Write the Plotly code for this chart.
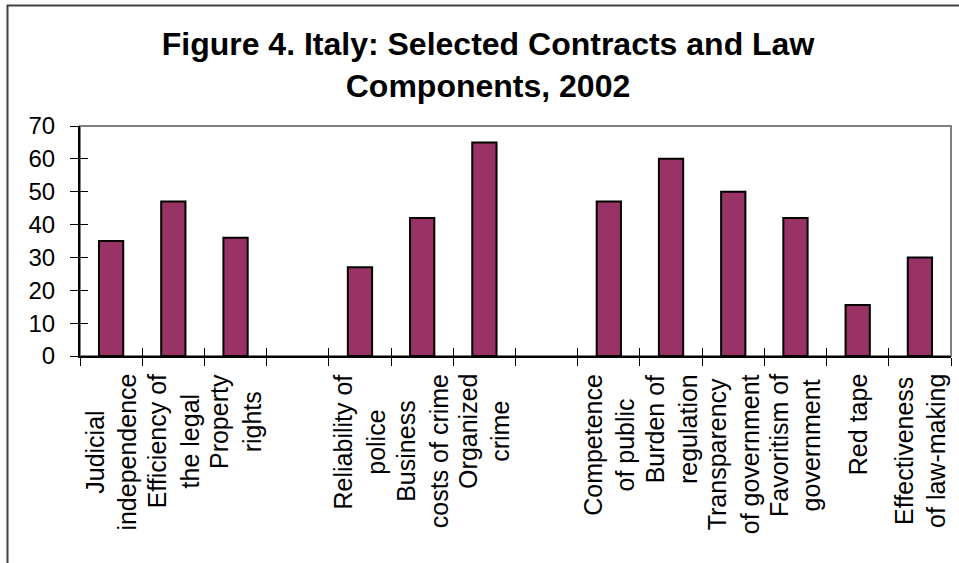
import plotly.graph_objects as go

categories = [
    "Judicial<br>independence",
    "Efficiency of<br>the legal",
    "Property<br>rights",
    " ",
    "Reliability of<br>police",
    "Business<br>costs of crime",
    "Organized<br>crime",
    "  ",
    "Competence<br>of public",
    "Burden of<br>regulation",
    "Transparency<br>of government",
    "Favoritism of<br>government",
    "Red tape",
    "Effectiveness<br>of law-making",
]
values = [35, 47, 36, None, 27, 42, 65, None, 47, 60, 50, 42, 15.5, 30]
y_ticks = [0, 10, 20, 30, 40, 50, 60, 70]

W, H = 959, 563
ML, MR, MT, MB = 80, 8, 126, 207
PW, PH = W - ML - MR, H - MT - MB

FONT = "Liberation Sans, Arial, sans-serif"

fig = go.Figure()
fig.add_trace(go.Bar(
    x=categories, y=values, width=0.39,
    marker=dict(color="#993366", line=dict(color="black", width=2)),
    showlegend=False, hoverinfo="skip",
))
# helper (invisible) trace so that the overlay axes carry inside tick marks
fig.add_trace(go.Scatter(
    x=categories, y=values, mode="none", xaxis="x2", yaxis="y2",
    showlegend=False, hoverinfo="skip",
))

# category labels: rotated, lines centred, blocks hanging from the axis
annotations = []
for c in categories:
    if c.strip() == "":
        continue
    annotations.append(dict(
        x=c, xref="x", y=0, yref="paper", yshift=-16,
        yanchor="top", xanchor="center", textangle=-90, align="center",
        text=c, showarrow=False,
        font=dict(family=FONT, size=25, color="black"),
    ))

fig.update_layout(
    width=W, height=H,
    margin=dict(l=ML, r=MR, t=MT, b=MB, pad=0),
    paper_bgcolor="white", plot_bgcolor="white",
    font=dict(family=FONT, color="black"),
    title=dict(
        text="<b>Figure 4. Italy: Selected Contracts and Law<br>Components, 2002</b>",
        font=dict(family=FONT, size=32, color="black"),
        x=488 / W, xref="container", xanchor="center",
        y=1 - 55 / H, yref="container", yanchor="top",
    ),
    xaxis=dict(
        type="category", categoryorder="array", categoryarray=categories,
        range=[-0.5, len(categories) - 0.5],
        tickson="boundaries", ticks="outside", ticklen=8, tickwidth=1.3,
        tickcolor="black", showticklabels=False,
        showline=True, linecolor="black", linewidth=2,
        showgrid=False, zeroline=False, fixedrange=True,
    ),
    yaxis=dict(
        range=[0, 70], tickvals=y_ticks, ticks="outside", ticklen=8,
        tickwidth=1.3, tickcolor="black", ticklabelstandoff=10,
        tickfont=dict(family=FONT, size=24, color="black"),
        showline=True, linecolor="black", linewidth=2,
        showgrid=False, zeroline=False, fixedrange=True,
    ),
    xaxis2=dict(
        type="category", categoryorder="array", categoryarray=categories,
        range=[-0.5, len(categories) - 0.5], overlaying="x", anchor="y",
        side="bottom", tickson="boundaries", ticks="inside", ticklen=8,
        tickwidth=1.3, tickcolor="black", showticklabels=False,
        showline=False, showgrid=False, zeroline=False, fixedrange=True,
    ),
    yaxis2=dict(
        range=[0, 70], tickvals=y_ticks, overlaying="y", anchor="x",
        side="left", ticks="inside", ticklen=8, tickwidth=1.3,
        tickcolor="black", showticklabels=False, showline=False,
        showgrid=False, zeroline=False, fixedrange=True,
    ),
    annotations=annotations,
    shapes=[
        # plot-area frame (grey)
        dict(type="rect", xref="paper", yref="paper", x0=0, x1=1, y0=0, y1=1,
             line=dict(color="#808080", width=2), layer="below"),
        # outer chart border
        dict(type="rect", xref="paper", yref="paper",
             x0=(7.5 - ML) / PW, x1=(W + 20 - ML) / PW,
             y0=(MT + PH - (H + 20)) / PH, y1=(MT + PH - 5.5) / PH,
             line=dict(color="#404040", width=2), layer="below"),
    ],
)

fig.write_html("out.html")
